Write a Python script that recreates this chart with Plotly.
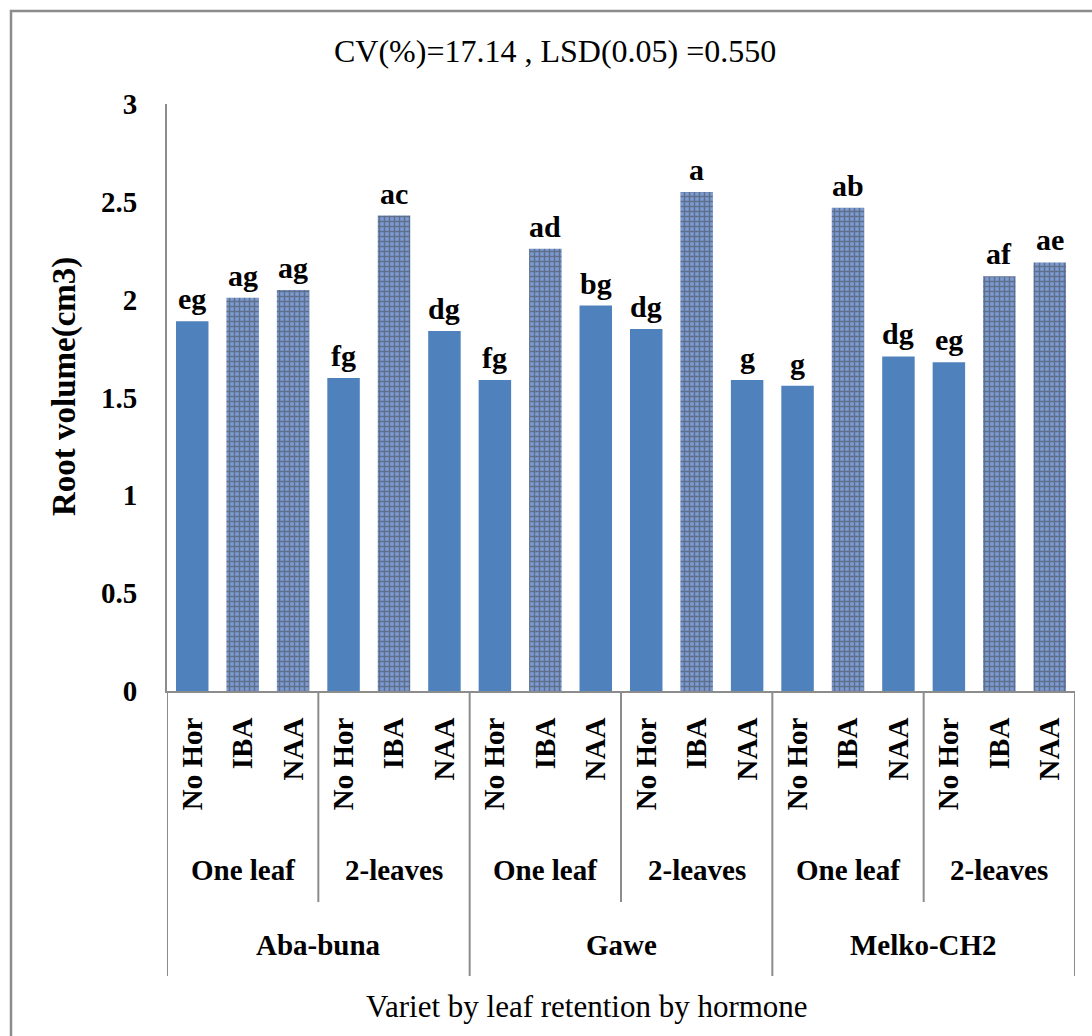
import plotly.graph_objects as go

# ---- data ----
hormones = ["No Hor", "IBA", "NAA"] * 6
leaf_groups = ["One leaf", "2-leaves"] * 3
varieties = ["Aba-buna", "Gawe", "Melko-CH2"]
root_volume = [1.89, 2.01, 2.05, 1.60, 2.43, 1.84,
               1.59, 2.26, 1.97, 1.85, 2.55, 1.59,
               1.56, 2.47, 1.71, 1.68, 2.12, 2.19]
letters = ["eg", "ag", "ag", "fg", "ac", "dg",
           "fg", "ad", "bg", "dg", "a", "g",
           "g", "ab", "dg", "eg", "af", "ae"]
textured = [False, True, True, False, True, False,
            False, True, False, False, True, False,
            False, True, False, False, True, True]
y_ticks = [0, 0.5, 1, 1.5, 2, 2.5, 3]
y_tick_text = ["0", "0.5", "1", "1.5", "2", "2.5", "3"]
title_text = "CV(%)=17.14 , LSD(0.05) =0.550"
y_title = "Root volume(cm3)"
x_title = "Variet by leaf retention by hormone"

FONT = "Liberation Serif, Times New Roman, serif"
PLAIN = "#4f81bd"
TEX_BG = "#7b9bd2"
TEX_FG = "#1a336a"
GRAY = "#8c8c8c"

W, H = 1092, 1036
L, R, T, B = 167, W - 1075, 104, H - 691
PW, PH = W - L - R, H - T - B


def px_x(px):
    return (px - L) / PW


def px_y(py):
    return (H - B - py) / PH


xs = list(range(len(root_volume)))

fig = go.Figure()
fig.add_trace(go.Bar(
    x=xs, y=root_volume,
    marker=dict(
        color=[TEX_BG if t else PLAIN for t in textured],
        line=dict(width=0),
        pattern=dict(
            shape=["+" if t else "" for t in textured],
            fgcolor=TEX_FG, bgcolor=TEX_BG,
            size=5, solidity=0.5, fillmode="overlay",
        ),
    ),
    hoverinfo="skip",
))

anns = []
for x, v, s in zip(xs, root_volume, letters):
    anns.append(dict(x=x, y=v, xref="x", yref="y", text="<b>%s</b>" % s,
                     showarrow=False, xanchor="center", yanchor="bottom", yshift=4,
                     font=dict(family=FONT, size=30, color="black")))

# leaf-retention labels
for i, lab in enumerate(leaf_groups):
    anns.append(dict(x=i * 3 + 1, y=px_y(870), xref="x", yref="paper",
                     text="<b>%s</b>" % lab, showarrow=False,
                     xanchor="center", yanchor="middle",
                     font=dict(family=FONT, size=29, color="black")))
# variety labels
for i, lab in enumerate(varieties):
    anns.append(dict(x=i * 6 + 2.5, y=px_y(945), xref="x", yref="paper",
                     text="<b>%s</b>" % lab, showarrow=False,
                     xanchor="center", yanchor="middle",
                     font=dict(family=FONT, size=29, color="black")))
# titles
anns.append(dict(x=px_x(555), y=px_y(51), xref="paper", yref="paper",
                 text=title_text, showarrow=False,
                 xanchor="center", yanchor="middle",
                 font=dict(family=FONT, size=32, color="black")))
anns.append(dict(x=px_x(587), y=px_y(1006), xref="paper", yref="paper",
                 text=x_title, showarrow=False,
                 xanchor="center", yanchor="middle",
                 font=dict(family=FONT, size=31, color="black")))
anns.append(dict(x=px_x(64), y=px_y(387), xref="paper", yref="paper",
                 text="<b>%s</b>" % y_title, showarrow=False, textangle=-90,
                 xanchor="center", yanchor="middle",
                 font=dict(family=FONT, size=33, color="black")))

shapes = []
# separators between leaf groups (short)
for i in range(3):
    xv = i * 6 + 2.5
    shapes.append(dict(type="line", xref="x", yref="paper", x0=xv, x1=xv,
                       y0=0, y1=px_y(902), line=dict(color=GRAY, width=2)))
# separators between varieties (long)
for i in range(4):
    xv = i * 6 - 0.5
    shapes.append(dict(type="line", xref="x", yref="paper", x0=xv, x1=xv,
                       y0=0, y1=px_y(976), line=dict(color=GRAY, width=2)))
# outer frame
shapes.append(dict(type="rect", xref="paper", yref="paper",
                   x0=px_x(11), x1=px_x(W + 10), y0=px_y(H + 10), y1=px_y(11),
                   line=dict(color=GRAY, width=2.5), fillcolor="rgba(0,0,0,0)"))

fig.update_layout(
    width=W, height=H,
    margin=dict(l=L, r=R, t=T, b=B, pad=0),
    paper_bgcolor="white", plot_bgcolor="white",
    showlegend=False, bargap=0.356,
    font=dict(family=FONT, color="black"),
    annotations=anns, shapes=shapes,
    xaxis=dict(
        range=[-0.5, len(xs) - 0.5],
        tickmode="array", tickvals=xs,
        ticktext=["<b>%s</b>" % h for h in hormones],
        tickangle=-90, tickfont=dict(family=FONT, size=29, color="black"),
        showline=True, linecolor=GRAY, linewidth=2,
        showgrid=False, zeroline=False, ticks="", ticklabelstandoff=13,
        fixedrange=True,
    ),
    yaxis=dict(
        range=[0, 3], tickmode="array", tickvals=y_ticks,
        ticktext=["<b>%s</b>" % t for t in y_tick_text],
        tickfont=dict(family=FONT, size=29, color="black"),
        showline=True, linecolor=GRAY, linewidth=2,
        showgrid=False, zeroline=False, ticks="", ticklabelstandoff=22,
        fixedrange=True,
    ),
)

fig.write_html("out.html",
               config={"displayModeBar": False, "staticPlot": True},
               post_script="document.body.style.margin='0';"
                           "document.body.style.overflow='hidden';")
